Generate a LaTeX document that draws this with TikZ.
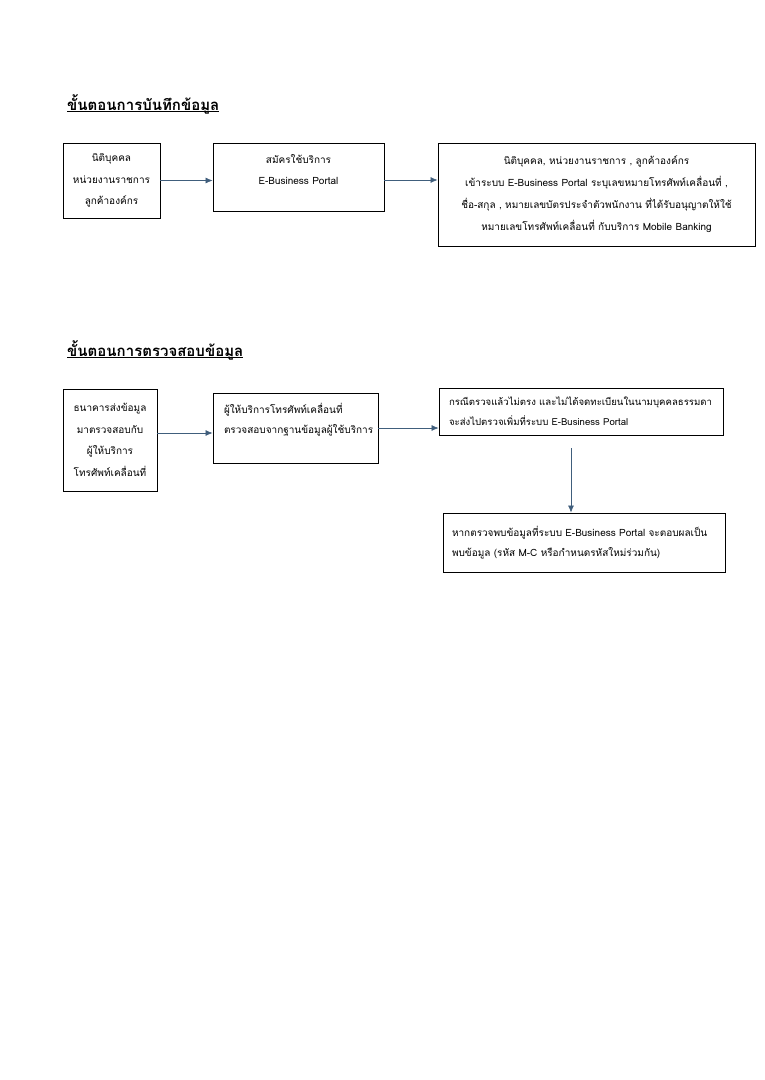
\documentclass[tikz,border=0pt]{standalone}
\usepackage{fontspec}
\setmainfont[Script=Thai]{Loma}
\usetikzlibrary{arrows.meta,positioning}
\usepackage{xcolor}
\definecolor{flowblue}{RGB}{64,94,124}

\begin{document}
\begin{tikzpicture}[x=1pt,y=-1pt,>={Latex[length=7pt,width=6pt]}]
  \tikzstyle{box}=[draw=black,line width=0.8pt,rectangle,inner sep=0pt,align=center,font=\fontsize{10}{21.5}\selectfont]
  \tikzstyle{lbox}=[box,align=left,font=\fontsize{10}{20}\selectfont]
  \tikzstyle{heading}=[inner sep=0pt,anchor=base west,font=\fontsize{15}{17}\selectfont\bfseries]
  \tikzstyle{flow}=[->,draw=flowblue,fill=flowblue,line width=0.7pt]

  \useasboundingbox (0,0) rectangle (764,1080);

  % recording steps
  \node[heading] (H1) at (67,110) {\underline{\smash{ขั้นตอนการบันทึกข้อมูล}}};

  \node[box,minimum width=97,minimum height=75]  (A1) at (111.5,180.5)
    {นิติบุคคล\\หน่วยงานราชการ\\ลูกค้าองค์กร};
  \node[box,minimum width=171,minimum height=68] (A2) at (298.5,177)
    {สมัครใช้บริการ\\E-Business Portal\\[-7pt]~};
  \node[box,minimum width=317,minimum height=103,font=\fontsize{10}{22}\selectfont] (A3) at (596.5,194.5)
    {นิติบุคคล, หน่วยงานราชการ , ลูกค้าองค์กร\\
     เข้าระบบ E-Business Portal ระบุเลขหมายโทรศัพท์เคลื่อนที่ ,\\
     ชื่อ-สกุล , หมายเลขบัตรประจำตัวพนักงาน ที่ได้รับอนุญาตให้ใช้\\
     หมายเลขโทรศัพท์เคลื่อนที่ กับบริการ Mobile Banking};

  \draw[flow] (A1.east) -- (A1.east -| A2.west);
  \draw[flow] ([yshift=-3pt]A2.east) -- ([yshift=-3pt]A2.east -| A3.west);

  % checking steps
  \node[heading] (H2) at (67,356) {\underline{\smash{ขั้นตอนการตรวจสอบข้อมูล}}};

  \node[box,minimum width=94,minimum height=102] (B1) at (110,440)
    {ธนาคารส่งข้อมูล\\มาตรวจสอบกับ\\ผู้ให้บริการ\\โทรศัพท์เคลื่อนที่};
  \node[lbox,text width=143,inner xsep=11,minimum height=70] (B2) at (295.5,428)
    {\mbox{ผู้ให้บริการโทรศัพท์เคลื่อนที่}\\\mbox{ตรวจสอบจากฐานข้อมูลผู้ใช้บริการ}\\~};
  \node[lbox,text width=264,inner xsep=10,minimum height=47,font=\fontsize{9.6}{20}\selectfont] (B3) at (581,411.5)
    {\mbox{กรณีตรวจแล้วไม่ตรง และไม่ได้จดทะเบียนในนามบุคคลธรรมดา}\\\mbox{จะส่งไปตรวจเพิ่มที่ระบบ E-Business Portal}};
  \node[lbox,text width=264,inner xsep=9,minimum height=59] (B4) at (584,542.5)
    {\mbox{หากตรวจพบข้อมูลที่ระบบ E-Business Portal จะตอบผลเป็น}\\\mbox{พบข้อมูล (รหัส M-C หรือกำหนดรหัสใหม่ร่วมกัน)}};

  \draw[flow] ([yshift=7pt]B1.east) -- ([yshift=7pt]B1.east -| B2.west);
  \draw[flow] (B2.east) -- (B2.east -| B3.west);
  \draw[flow,shorten <=13pt] ([xshift=-10pt]B3.south) -- ([xshift=-10pt]B3.south |- B4.north);
\end{tikzpicture}
\end{document}
